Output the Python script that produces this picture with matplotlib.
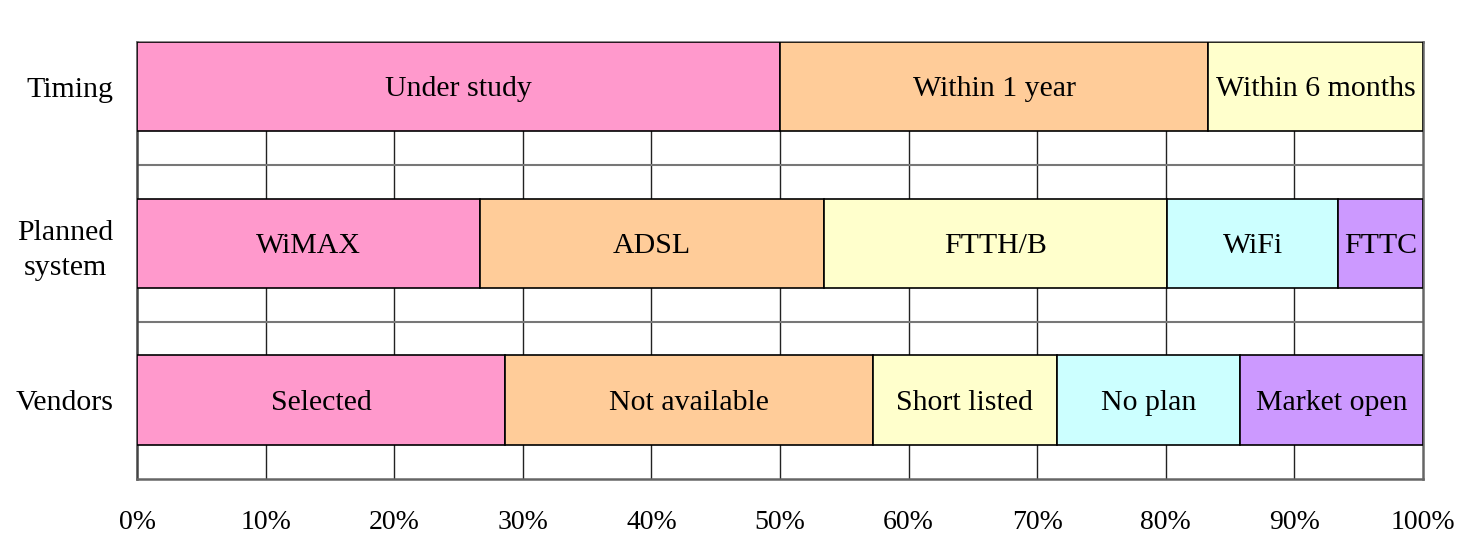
import numpy as np
import matplotlib.pyplot as plt
from matplotlib.transforms import ScaledTranslation

plt.rcParams['font.family'] = ['Liberation Serif', 'DejaVu Serif']

# ---- Data ----
rows = ["Vendors", "Planned\nsystem", "Timing"]

timing_labels = ["Under study", "Within 1 year", "Within 6 months"]
timing_values = [50.0, 33.3, 16.7]

system_labels = ["WiMAX", "ADSL", "FTTH/B", "WiFi", "FTTC"]
system_values = [26.7, 26.7, 26.7, 13.3, 6.6]

vendor_labels = ["Selected", "Not available", "Short listed", "No plan", "Market open"]
vendor_values = [28.6, 28.6, 14.3, 14.3, 14.2]

x_ticks = list(range(0, 101, 10))
x_tick_labels = [f"{t}%" for t in x_ticks]

COLORS = ["#FF99CC", "#FFCC99", "#FFFFCC", "#CCFFFF", "#CC99FF"]

# ---- Plot ----
fig = plt.figure(figsize=(14.64, 5.38), dpi=100)
ax = fig.add_axes([0.0936, 0.1097, 0.8784, 0.8122])

# shift baseline down by half the cap height so caps sit centred in the bar
label_fs = 21.5
shift = ax.transData + ScaledTranslation(0, -0.33 * label_fs / 72, fig.dpi_scale_trans)

series = [(vendor_labels, vendor_values), (system_labels, system_values),
          (timing_labels, timing_values)]
bar_h = 0.568
for row, (labels, values) in enumerate(series):
    left = 0.0
    for i, (lab, val) in enumerate(zip(labels, values)):
        ax.barh(row, val, left=left, height=bar_h, color=COLORS[i],
                edgecolor="black", linewidth=1.2, zorder=3)
        ax.text(left + val / 2, row, lab, ha="center", va="baseline",
                fontsize=label_fs, zorder=4, transform=shift)
        left += val

ax.set_xlim(0, 100)
ax.set_ylim(-0.504, 2.284)

# grid: vertical lines every 10%, horizontal lines between rows
for t in x_ticks[1:-1]:
    ax.axvline(t, color="#222222", linewidth=1.0, zorder=1)
for y in [0.5, 1.5]:
    ax.axhline(y, color="#777777", linewidth=1.5, zorder=1)

ax.set_xticks(x_ticks)
ax.set_xticklabels(x_tick_labels, fontsize=20)
ax.tick_params(axis="x", length=0, pad=22)

ax.set_yticks(range(len(rows)))
ax.set_yticklabels(rows, fontsize=21.5, multialignment="center", linespacing=1.45)
ax.tick_params(axis="y", length=0, pad=17)

for s in ax.spines.values():
    s.set_color("#666666")
    s.set_linewidth(1.8)
ax.spines["left"].set_color("#444444")

fig.savefig("out.png", dpi=100)
